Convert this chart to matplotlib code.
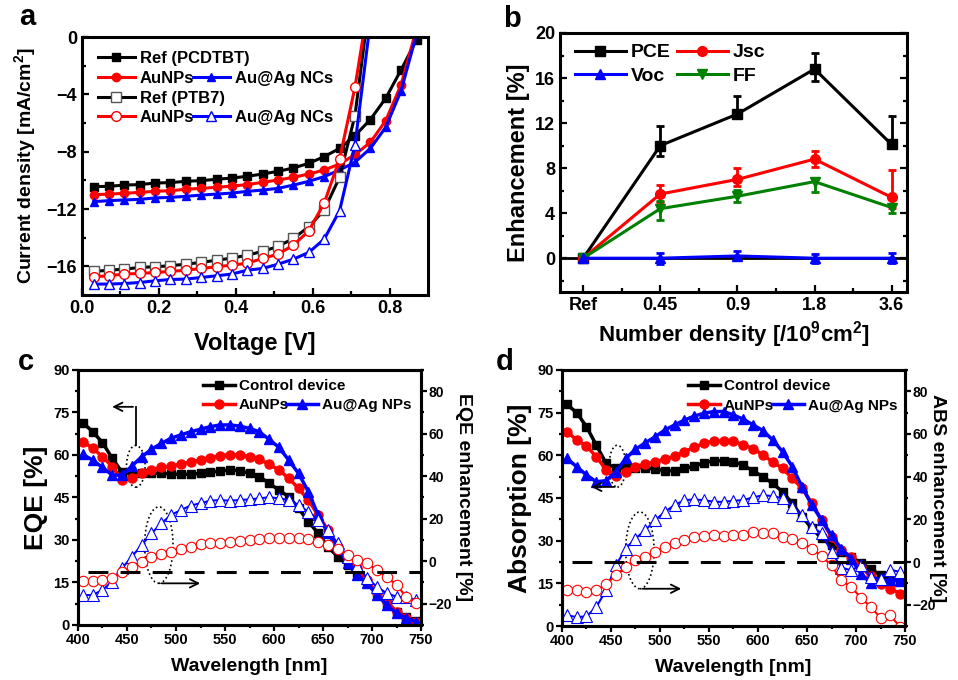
import numpy as np
import matplotlib
matplotlib.use("Agg")
import matplotlib.pyplot as plt
from matplotlib.lines import Line2D
from matplotlib.patches import Ellipse

plt.rcParams["font.family"] = ["Liberation Sans", "DejaVu Sans"]
plt.rcParams["font.weight"] = "bold"
plt.rcParams["axes.labelweight"] = "bold"
plt.rcParams["mathtext.fontset"] = "custom"
plt.rcParams["mathtext.rm"] = "Liberation Sans:bold"
plt.rcParams["mathtext.bf"] = "Liberation Sans:bold"
plt.rcParams["mathtext.it"] = "Liberation Sans:bold"

RED = "#ff0000"
BLUE = "#0000ff"
GREEN = "#008000"

# ---- panel a: J-V curves ----
v_pcdtbt = [0.03, 0.07, 0.11, 0.15, 0.19, 0.23, 0.27, 0.31, 0.35, 0.39, 0.43,
            0.47, 0.51, 0.55, 0.59, 0.63, 0.67, 0.71, 0.75, 0.79, 0.83, 0.87]
j_ref_pcdtbt = [-10.43, -10.41, -10.32, -10.29, -10.18, -10.15, -10.06, -10.01, -9.92, -9.83, -9.71,
                -9.55, -9.36, -9.13, -8.80, -8.34, -7.76, -6.87, -5.75, -4.26, -2.28, -0.19]
j_au_pcdtbt = [-11.0, -10.95, -10.9, -10.83, -10.76, -10.71, -10.62, -10.55, -10.48, -10.39, -10.29,
               -10.13, -9.97, -9.78, -9.55, -9.27, -8.85, -8.2, -7.34, -5.82, -3.31]
j_ag_pcdtbt = [-11.48, -11.41, -11.36, -11.32, -11.22, -11.18, -11.11, -11.02, -10.95, -10.88, -10.76,
               -10.67, -10.55, -10.32, -10.06, -9.73, -9.27, -8.73, -7.76, -6.29, -3.73]
voc_au_pcdtbt = 0.864
voc_ag_pcdtbt = 0.868

v_ptb7 = [0.03, 0.07, 0.11, 0.15, 0.19, 0.23, 0.27, 0.31, 0.35,
          0.39, 0.43, 0.47, 0.51, 0.55, 0.59, 0.63, 0.67, 0.71]
j_ref_ptb7 = [-16.35, -16.26, -16.19, -16.07, -16.02, -15.95, -15.84, -15.72, -15.56,
              -15.42, -15.21, -14.95, -14.6, -14.04, -13.23, -12.06, -9.78, -5.47]
j_au_ptb7 = [-16.72, -16.65, -16.53, -16.49, -16.42, -16.35, -16.26, -16.14, -16.02,
             -15.91, -15.77, -15.44, -15.14, -14.51, -13.51, -11.57, -8.5, -3.49]
j_ag_ptb7 = [-17.23, -17.23, -17.19, -17.12, -17.0, -16.91, -16.88, -16.77, -16.65,
             -16.53, -16.26, -16.14, -15.84, -15.49, -15.02, -14.09, -12.11, -7.52]
voc_ref_ptb7 = 0.736
voc_au_ptb7 = 0.731
voc_ag_ptb7 = 0.745

# ---- panel b: enhancement vs number density ----
density_labels = ["Ref", "0.45", "0.9", "1.8", "3.6"]
pce = [0, 10.0, 12.8, 16.8, 10.1]
pce_err_lo = [0, 0.9, 0.3, 1.1, 0.3]
pce_err_hi = [0, 1.7, 1.6, 1.4, 2.5]
jsc = [0, 5.7, 7.0, 8.8, 5.4]
jsc_err_lo = [0, 0.7, 0.6, 0.7, 0.9]
jsc_err_hi = [0, 0.8, 1.0, 0.7, 2.4]
ff = [0, 4.4, 5.5, 6.8, 4.5]
ff_err_lo = [0, 1.0, 0.5, 0.9, 0.5]
ff_err_hi = [0, 0.7, 0.6, 0.3, 0.3]
voc = [0, 0, 0.2, 0, 0]
voc_err = [0, 0.5, 0.4, 0.4, 0.45]

# ---- panels c, d: spectra ----
wavelength = np.arange(405, 750, 10)

eqe_control = [71.4, 68.2, 64.4, 58.8, 53.9, 53.2, 53.5, 53.5, 53.5, 53.3, 53.2, 53.2,
               53.5, 53.9, 54.4, 54.7, 54.5, 53.5, 52.4, 50.0, 47.6, 45.3, 41.2, 36.5,
               32.4, 27.6, 24.1, 21.2, 18.2, 15.3, 11.2, 7.6, 4.7, 2.9, 1.5]
eqe_au = [64.7, 62.4, 59.4, 55.9, 51.2, 51.8, 53.5, 54.7, 55.6, 56.1, 56.8, 57.6,
          58.2, 59.1, 59.8, 60.0, 60.0, 59.4, 58.5, 56.7, 54.7, 51.8, 48.2, 44.1,
          38.8, 33.5, 27.6, 22.9, 20.0, 15.9, 11.2, 8.2, 4.7, 2.4, 1.2]
eqe_ag = [60.2, 58.2, 55.6, 52.9, 52.9, 56.1, 59.4, 62.0, 64.1, 65.9, 67.1, 68.2,
          69.1, 70.0, 70.6, 70.6, 70.2, 69.4, 68.2, 65.5, 62.7, 58.2, 53.5, 47.1,
          38.8, 32.4, 27.1, 21.8, 17.6, 14.7, 10.6, 7.1, 4.1, 2.4, 1.2]
eqe_enh_au = [-9.3, -9.3, -8.8, -8.0, -4.9, -2.5, -0.2, 2.2, 3.4, 4.5, 5.6, 6.9,
              8.0, 8.4, 8.7, 9.2, 9.5, 10.0, 10.3, 10.8, 10.8, 10.8, 11.1, 10.3,
              9.2, 7.6, 5.6, 2.9, 0.6, -1.0, -4.1, -7.3, -11.2, -16.7, -19.5]
eqe_enh_ag = [-15.9, -15.9, -13.5, -9.6, -3.3, 2.2, 7.6, 13.1, 17.8, 21.8, 24.1, 26.2,
              27.3, 28.5, 28.8, 28.5, 28.8, 29.1, 29.6, 30.1, 29.6, 28.8, 26.5, 23.3,
              19.4, 14.7, 8.4, 2.2, -2.2, -8.0, -12.0, -15.1, -16.7, -17.0, -18.2]

abs_control = [77.9, 75.0, 70.1, 63.6, 57.2, 55.4, 55.4, 55.6, 55.6, 55.2, 54.6, 54.6,
               55.4, 56.2, 57.4, 58.1, 58.1, 57.7, 56.6, 54.5, 52.5, 50.1, 47.2, 43.1,
               38.4, 34.3, 30.8, 28.4, 26.1, 24.3, 22.2, 20.2, 17.8, 16.7, 16.1]
abs_au = [68.3, 65.4, 63.3, 59.5, 55.0, 52.7, 54.2, 56.0, 56.9, 57.7, 58.6, 59.7,
          61.3, 62.8, 64.2, 65.1, 65.0, 65.0, 63.6, 62.4, 60.1, 57.7, 55.4, 51.9,
          48.4, 43.1, 37.2, 31.3, 26.6, 24.3, 20.8, 17.5, 14.9, 13.1, 11.4]
abs_ag = [58.9, 56.0, 53.1, 50.7, 51.1, 54.2, 58.9, 62.1, 64.4, 66.5, 68.9, 70.7,
          72.4, 73.8, 74.8, 75.4, 75.4, 74.2, 72.7, 70.7, 68.7, 65.4, 61.3, 56.0,
          48.9, 42.5, 37.2, 31.9, 27.2, 23.7, 18.4, 15.1, 16.1, 16.1, 15.8]
abs_enh_au = [-12.9, -12.9, -14.0, -13.3, -10.4, -6.2, -2.3, 0.8, 2.4, 4.7, 7.1, 9.0,
              10.2, 11.5, 12.3, 12.6, 12.3, 12.6, 12.6, 14.1, 13.4, 13.7, 11.8, 11.0,
              9.0, 6.3, 2.7, -1.6, -8.6, -11.7, -16.7, -21.1, -26.1, -25.0, -30.5]
abs_enh_ag = [-25.0, -25.8, -25.5, -21.1, -13.3, -1.6, 6.3, 11.0, 14.9, 19.6, 23.5, 26.7,
              29.0, 29.3, 29.0, 28.2, 28.2, 28.7, 29.0, 30.3, 31.3, 30.9, 29.8, 25.9,
              22.0, 16.5, 13.4, 4.7, -2.6, -3.9, -1.6, -7.0, -7.8, -3.6, -4.7]


def frame(ax, direction, size):
    for sp in ax.spines.values():
        sp.set_linewidth(2.2)
    ax.tick_params(which="both", direction=direction, width=1.6, labelsize=size)
    ax.tick_params(which="major", length=5)
    ax.tick_params(which="minor", length=3)


def plot_jv(ax):
    ax.plot(v_pcdtbt, j_ref_pcdtbt, "-s", color="black", lw=2.2, ms=6)
    ax.plot(v_pcdtbt[:-1] + [voc_au_pcdtbt], j_au_pcdtbt + [0], "-o", color=RED, lw=2.2, ms=6,
            markevery=list(range(len(j_au_pcdtbt))))
    ax.plot(v_pcdtbt[:-1] + [voc_ag_pcdtbt], j_ag_pcdtbt + [0], "-^", color=BLUE, lw=2.2, ms=6,
            markevery=list(range(len(j_ag_pcdtbt))))
    n = len(v_ptb7)
    ax.plot(v_ptb7 + [voc_ref_ptb7], j_ref_ptb7 + [0], "-s", color="black", lw=2.2, ms=7,
            mfc="white", mec="#555555", mew=1, markevery=list(range(n)))
    ax.plot(v_ptb7 + [voc_au_ptb7], j_au_ptb7 + [0], "-o", color=RED, lw=2.2, ms=7,
            mfc="white", mec=RED, mew=1, markevery=list(range(n)))
    ax.plot(v_ptb7 + [voc_ag_ptb7], j_ag_ptb7 + [0], "-^", color=BLUE, lw=2.2, ms=7,
            mfc="white", mec=BLUE, mew=1, markevery=list(range(n)))

    ax.set_xlim(0, 0.9)
    ax.set_ylim(-18, 0)
    ax.set_xticks([0.0, 0.2, 0.4, 0.6, 0.8])
    ax.set_xticks(np.arange(0.1, 0.9, 0.2), minor=True)
    ax.set_yticks([0, -4, -8, -12, -16])
    ax.set_yticks([-2, -6, -10, -14, -18], minor=True)
    ax.set_xticklabels(["0.0", "0.2", "0.4", "0.6", "0.8"])
    frame(ax, "in", 13)
    ax.set_xlabel("Voltage [V]", fontsize=17, labelpad=11)
    ax.set_ylabel("Current density [mA/cm$^2$]", fontsize=14, labelpad=6)

    h_ref1 = Line2D([], [], color="black", marker="s", lw=2.2, ms=6)
    h_au1 = Line2D([], [], color=RED, marker="o", lw=2.2, ms=6)
    h_ag1 = Line2D([], [], color=BLUE, marker="^", lw=2.2, ms=6)
    h_ref2 = Line2D([], [], color="black", marker="s", lw=2.2, ms=7, mfc="white", mec="#555555", mew=1)
    h_au2 = Line2D([], [], color=RED, marker="o", lw=2.2, ms=7, mfc="white", mec=RED, mew=1)
    h_ag2 = Line2D([], [], color=BLUE, marker="^", lw=2.2, ms=7, mfc="white", mec=BLUE, mew=1)
    blank = Line2D([], [], linestyle="none")
    opts = dict(frameon=False, fontsize=12, handlelength=2.2, handletextpad=0.3,
                labelspacing=0.28, borderpad=0, borderaxespad=0, loc="upper left")
    leg1 = ax.legend([h_ref1, h_au1, h_ref2, h_au2],
                     ["Ref (PCDTBT)", "AuNPs", "Ref (PTB7)", "AuNPs"],
                     bbox_to_anchor=(0.046, 0.945), **opts)
    ax.add_artist(leg1)
    ax.legend([blank, h_ag1, blank, h_ag2], [" ", "Au@Ag NCs", " ", "Au@Ag NCs"],
              bbox_to_anchor=(0.321, 0.945), **opts)


def plot_enhancement(ax):
    x = np.arange(len(density_labels))
    ax.axhline(0, color="black", lw=2)
    eb = dict(lw=2.2, ms=7, capsize=3, elinewidth=2, capthick=2)
    ax.errorbar(x, pce, yerr=[pce_err_lo, pce_err_hi], fmt="-s", color="black", **eb)
    ax.errorbar(x, jsc, yerr=[jsc_err_lo, jsc_err_hi], fmt="-o", color=RED, **eb)
    ax.errorbar(x, ff, yerr=[ff_err_lo, ff_err_hi], fmt="-v", color=GREEN, **eb)
    ax.errorbar(x, voc, yerr=voc_err, fmt="-^", color=BLUE, **eb)

    ax.set_xlim(-0.3, 4.2)
    ax.set_ylim(-3, 20)
    ax.set_xticks(x)
    ax.set_xticklabels(density_labels)
    ax.set_xticks(x[:-1] + 0.5, minor=True)
    ax.set_yticks([0, 4, 8, 12, 16, 20])
    ax.set_yticks([-2, 2, 6, 10, 14, 18], minor=True)
    frame(ax, "in", 13)
    ax.tick_params(which="both", right=True)
    ax.set_xlabel("Number density [/10$^9$cm$^2$]", fontsize=16, labelpad=4)
    ax.set_ylabel("Enhancement [%]", fontsize=17, labelpad=4)

    handles = [Line2D([], [], color="black", marker="s", lw=2.2, ms=7),
               Line2D([], [], color=BLUE, marker="^", lw=2.2, ms=7),
               Line2D([], [], color=RED, marker="o", lw=2.2, ms=7),
               Line2D([], [], color=GREEN, marker="v", lw=2.2, ms=7)]
    ax.legend(handles, ["PCE", "Voc", "Jsc", "FF"], ncol=2,
              frameon=False, fontsize=14, handlelength=2.6, handletextpad=0.25,
              columnspacing=0.35, labelspacing=0.3, borderpad=0, borderaxespad=0,
              loc="upper left", bbox_to_anchor=(0.043, 0.958))


def plot_spectrum(ax, control, au, ag, enh_au, enh_ag, dash_level,
                  left_label, right_label, right_pad, small_ell, small_arrow, big_ell, leg_x):
    ax.plot(wavelength, control, "-s", color="black", lw=2.5, ms=5.5, label="Control device")
    ax.plot(wavelength, au, "-o", color=RED, lw=2.5, ms=6.5, label="AuNPs")
    ax.plot(wavelength, ag, "-^", color=BLUE, lw=2.5, ms=7, label="Au@Ag NPs")
    ax.set_xlim(400, 750)
    ax.set_ylim(0, 90)
    ax.set_xticks(np.arange(400, 751, 50))
    ax.set_xticks(np.arange(425, 750, 50), minor=True)
    ax.set_yticks(np.arange(0, 91, 15))
    ax.set_yticks(np.arange(7.5, 90, 15), minor=True)
    frame(ax, "out", 10.5)
    ax.tick_params(which="major", length=4, pad=2)
    ax.tick_params(which="minor", length=2.5)
    ax.set_xlabel("Wavelength [nm]", fontsize=14, labelpad=8)
    ax.set_ylabel(left_label, fontsize=19, labelpad=4)

    ax2 = ax.twinx()
    ax2.plot(wavelength, enh_ag, "-^", color=BLUE, lw=1.5, ms=8, mfc="white", mec=BLUE, mew=0.8)
    ax2.plot(wavelength, enh_au, "-o", color=RED, lw=1.5, ms=7.5, mfc="white", mec=RED, mew=0.8)
    ax2.hlines(dash_level, 410, 750, colors="black", linestyles=(0, (6.5, 4)), lw=2.2)
    ax2.set_ylim(-30, 90)
    ax2.set_yticks(np.arange(-20, 81, 20))
    ax2.set_yticks(np.arange(-30, 91, 20), minor=True)
    frame(ax2, "out", 10)
    ax2.tick_params(which="major", length=4, pad=1.5)
    ax2.tick_params(which="minor", length=2.5)
    ax2.set_ylabel(right_label, fontsize=14, rotation=270, labelpad=right_pad)

    # dotted ellipses with arrows pointing at the matching axis
    (ex, ey, ew, eh) = small_ell
    ax.add_patch(Ellipse((ex, ey), ew, eh, fill=False, ls=":", lw=1.2, ec="black"))
    ax.annotate("", xy=small_arrow[1], xytext=small_arrow[0],
                arrowprops=dict(arrowstyle="->,head_length=0.6,head_width=0.3", lw=1.3, color="black"))
    if len(small_arrow) > 2:
        ax.plot([small_arrow[2][0], small_arrow[0][0]], [small_arrow[2][1], small_arrow[0][1]],
                color="black", lw=1.3)
    (bx, by, bw, bh) = big_ell
    ax.add_patch(Ellipse((bx, by), bw, bh, fill=False, ls=":", lw=1.2, ec="black"))
    ax.annotate("", xy=(bx + 45, by - bh / 2), xytext=(bx, by - bh / 2),
                arrowprops=dict(arrowstyle="->,head_length=0.6,head_width=0.3", lw=1.3, color="black"))

    handles, labels = ax.get_legend_handles_labels()
    blank = Line2D([], [], linestyle="none")
    opts = dict(frameon=False, fontsize=11, handlelength=2.1, handletextpad=0.25,
                labelspacing=0.33, borderpad=0, borderaxespad=0, loc="upper left")
    leg1 = ax2.legend(handles[:2], labels[:2], bbox_to_anchor=(leg_x[0], 0.963), **opts)
    ax2.add_artist(leg1)
    ax2.legend([blank, handles[2]], [" ", labels[2]], bbox_to_anchor=(leg_x[1], 0.963), **opts)


fig = plt.figure(figsize=(9.58, 6.8), dpi=100)
ax_a = fig.add_axes([0.0856, 0.566, 0.3612, 0.3794])
ax_b = fig.add_axes([0.5846, 0.5706, 0.3622, 0.3809])
ax_c = fig.add_axes([0.0814, 0.0809, 0.3581, 0.3750])
ax_d = fig.add_axes([0.5866, 0.0794, 0.3581, 0.3765])

plot_jv(ax_a)
plot_enhancement(ax_b)
plot_spectrum(ax_c, eqe_control, eqe_au, eqe_ag, eqe_enh_au, eqe_enh_ag, -5,
              "EQE [%]", "EQE enhancement [%]", 14,
              (459, 56, 19, 14.7), [(459, 77), (432, 77), (459, 63.4)],
              (482.5, 28.2, 29, 27), (0.364, 0.606))
plot_spectrum(ax_d, abs_control, abs_au, abs_ag, abs_enh_au, abs_enh_ag, 0,
              "Absorption [%]", "ABS enhancement [%]", 7,
              (456.5, 56.2, 17, 14.7), [(456.5, 48.9), (427, 48.9)],
              (479.5, 26.6, 29, 27), (0.367, 0.612))

for letter, x, y in [("a", 0.028, 0.975), ("b", 0.534, 0.972), ("c", 0.027, 0.468), ("d", 0.527, 0.468)]:
    fig.text(x, y, letter, fontsize=21, fontweight="bold", ha="center", va="center")

fig.savefig("out.png", dpi=100)
